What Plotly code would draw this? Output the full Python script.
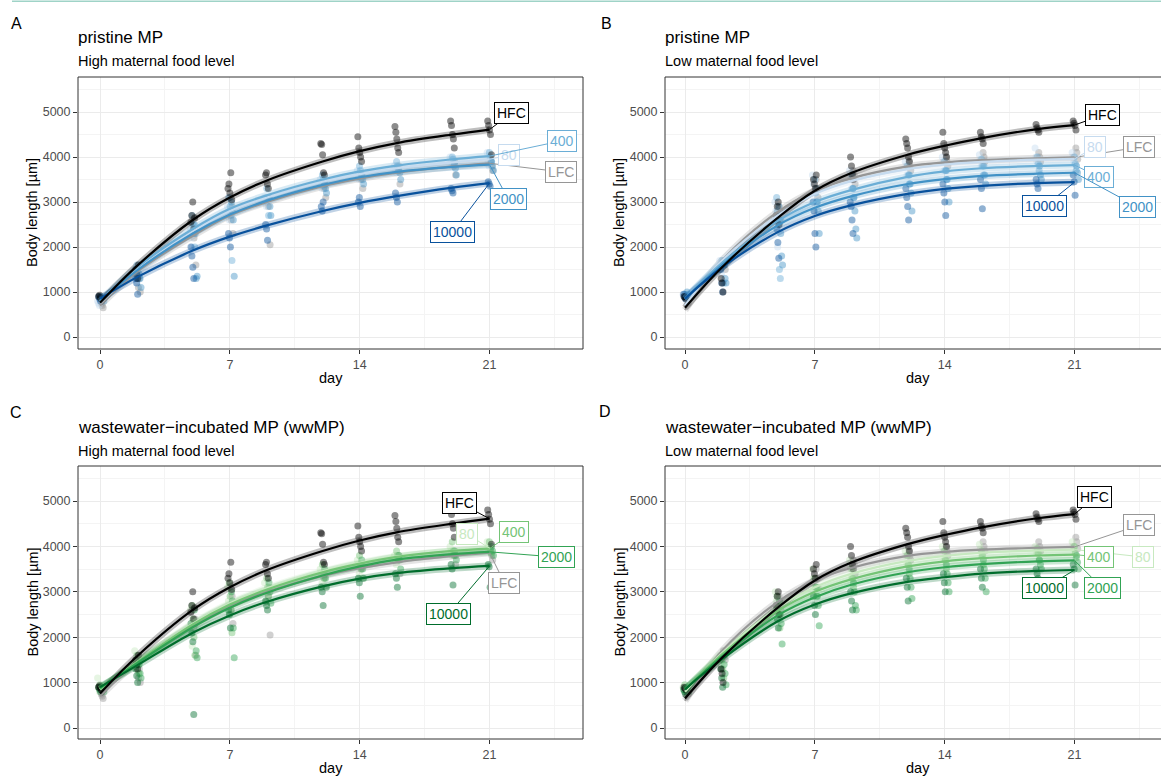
import plotly.graph_objects as go

W, H = 1161, 776
FONT = "Liberation Sans"

DAYS = [0, 2, 5, 7, 9, 12, 14, 16, 19, 21]
X_TICKS = [0, 7, 14, 21]
X_MINOR = [3.5, 10.5, 17.5, 24.5]
Y_TICKS = [0, 1000, 2000, 3000, 4000, 5000]
Y_MINOR = [500, 1500, 2500, 3500, 4500, 5500]
TREATMENTS = ["LFC", "80", "400", "2000", "10000", "HFC"]

# ---------------- fitted growth curves (body length, um) at DAYS -------------
FIT_HFC_HIGH = [760, 1580, 2600, 3100, 3480, 3900, 4130, 4310, 4500, 4610]
FIT_LFC_HIGH = [700, 1450, 2250, 2700, 3000, 3350, 3520, 3650, 3790, 3860]
FIT_HFC_LOW = [650, 1550, 2650, 3250, 3650, 4050, 4250, 4420, 4620, 4710]
FIT_LFC_LOW = [600, 1700, 2780, 3250, 3530, 3790, 3880, 3930, 3970, 3990]

FIT_PRISTINE_HIGH = {
    "80": [750, 1500, 2350, 2800, 3100, 3450, 3620, 3750, 3880, 3950],
    "400": [800, 1550, 2400, 2850, 3150, 3500, 3680, 3810, 3950, 4020],
    "2000": [780, 1480, 2300, 2720, 3030, 3380, 3550, 3670, 3780, 3830],
    "10000": [850, 1330, 1920, 2230, 2480, 2800, 2980, 3130, 3320, 3420],
}
FIT_PRISTINE_LOW = {
    "80": [700, 1700, 2700, 3180, 3470, 3730, 3830, 3890, 3940, 3960],
    "400": [850, 1650, 2580, 3000, 3270, 3560, 3680, 3750, 3800, 3820],
    "2000": [850, 1600, 2480, 2870, 3130, 3400, 3510, 3580, 3630, 3650],
    "10000": [850, 1550, 2330, 2690, 2930, 3180, 3290, 3360, 3420, 3440],
}
FIT_WW_HIGH = {
    "80": [850, 1450, 2300, 2750, 3080, 3450, 3640, 3780, 3900, 3960],
    "400": [850, 1450, 2280, 2720, 3050, 3430, 3620, 3770, 3900, 3950],
    "2000": [880, 1430, 2220, 2650, 2980, 3360, 3560, 3710, 3830, 3880],
    "10000": [900, 1380, 2100, 2480, 2780, 3120, 3290, 3410, 3520, 3570],
}
FIT_WW_LOW = {
    "80": [800, 1650, 2650, 3100, 3400, 3680, 3790, 3860, 3910, 3930],
    "400": [850, 1620, 2580, 3000, 3280, 3560, 3670, 3740, 3800, 3820],
    "2000": [850, 1580, 2480, 2880, 3160, 3430, 3540, 3610, 3670, 3690],
    "10000": [850, 1520, 2350, 2720, 2970, 3220, 3320, 3400, 3460, 3480],
}

# ---------------- individual measurements, one list per day in DAYS ----------
PTS_HFC_HIGH = [[900, 930, 880, 850], [1500, 1400, 1300, 1600], [2550, 2700, 3000, 2400, 2650],
                [3300, 3400, 3200, 3650, 3050], [3600, 3650, 3400, 3300], [4300, 4280, 4050, 3650, 3600],
                [4450, 4200, 4100, 4000, 3900], [4680, 4550, 4400, 4200, 4100],
                [4800, 4700, 4500, 4400, 4200], [4800, 4700, 4600, 4500, 4050]]
PTS_LFC_HIGH = [[750, 700, 650], [1100, 1300, 1000], [2200, 2400, 1600], [2600, 2900, 2300],
                [2900, 3100, 2050], [3300, 3400, 3100], [3500, 3600, 3300], [3700, 3800, 3400],
                [3800, 3900, 3600], [3900, 3800, 3700]]
PTS_HFC_LOW = [[900, 880, 850], [1300, 1200, 1000], [2700, 2900, 3000, 2500], [3500, 3400, 3300, 3600],
               [4000, 3800, 3600, 3500], [4400, 4300, 4200, 4000, 3900], [4550, 4300, 4200, 4100, 4000],
               [4550, 4450, 4400, 4300], [4720, 4650, 4600, 4550], [4800, 4750, 4700, 4600]]
PTS_LFC_LOW = [[850, 800, 750], [1700, 1600, 1500], [2900, 2800, 2600], [3500, 3300, 3100],
               [3700, 3600, 3400], [3900, 3800, 3700], [4000, 3900, 3800], [4100, 4000, 3900],
               [4100, 4000, 3900], [4200, 4100, 3950]]

PTS_PRISTINE_HIGH = {
    "80": [[800, 750, 700], [1500, 1400, 1200], [2400, 2200, 2000], [2900, 3100, 2600], [3100, 3000, 2900],
           [3500, 3400, 3300], [3700, 3600, 3500], [3800, 3700, 3650], [4000, 3900, 3800], [4100, 3900, 3800]],
    "400": [[900, 850, 800], [1600, 1450, 1300], [2700, 2500, 2300, 2000], [3100, 2900, 2700, 1700],
            [3300, 3100, 2700], [3600, 3500, 3350], [3800, 3700, 3600], [3900, 3800, 3700],
            [4000, 3950, 3850], [4100, 4000, 3900]],
    "2000": [[900, 850, 800], [1400, 1300, 1100], [2500, 2300, 1300, 1350], [3000, 2800, 2600, 1350],
             [3100, 2900, 2700], [3400, 3300, 3200], [3600, 3500, 3400], [3700, 3650, 3500],
             [3850, 3750, 3600], [3900, 3800, 3700]],
    "10000": [[900, 850, 800], [1300, 1200, 950], [2000, 1800, 1550, 1300], [2300, 2200, 2000],
              [2500, 2400, 2150], [2900, 2800, 3000], [3000, 3100, 2900], [3200, 3100, 3000],
              [3300, 3250, 3200], [3450, 3400, 3350]],
}
PTS_PRISTINE_LOW = {
    "80": [[950, 900], [1700, 1500, 1400], [3000, 2800, 2600, 2000], [3600, 3400, 3200], [3700, 3500, 3300],
           [3900, 3800, 3600], [4000, 3900, 3700], [4050, 3950, 3800], [4200, 4000, 3900], [4100, 4000, 3900]],
    "400": [[950, 900, 850], [1700, 1600, 1200], [3100, 2800, 2500, 1500, 1300], [3500, 3200, 3000],
            [3600, 3300, 3100], [3800, 3600, 3400], [3900, 3700, 3500], [3950, 3800, 3600],
            [4000, 3850, 3700], [4000, 3850, 3700]],
    "2000": [[1000, 950, 900], [1600, 1300, 1200], [2900, 2600, 2300, 1800, 1600], [3300, 3000, 2800, 2300],
             [3300, 3100, 2800, 2400, 2200], [3600, 3400, 3200, 2800], [3700, 3500, 3300, 3000],
             [3800, 3600, 3400], [3800, 3600, 3500], [3800, 3650, 3500]],
    "10000": [[950, 900, 850], [1500, 1200, 1000], [2600, 2400, 2100, 1750], [3000, 2800, 2300, 2000],
              [3000, 2900, 2600, 2300], [3300, 3100, 2900, 2600], [3400, 3200, 3000, 2700],
              [3500, 3300, 2850], [3500, 3400, 3300], [3600, 3450, 3150]],
}
PTS_WW_HIGH = {
    "80": [[1100, 900, 800], [1700, 1500, 1300], [2600, 2200, 1800], [3100, 2800, 2500], [3200, 3000, 2800],
           [3500, 3400, 3200], [3700, 3600, 3400], [3800, 3700, 3600], [4000, 3900, 3800], [4100, 4000, 3900]],
    "400": [[950, 900, 850], [1600, 1400, 1200], [2700, 2400, 2000, 1600], [3200, 2900, 2600, 2100],
            [3300, 3100, 2900], [3600, 3400, 3300], [3800, 3600, 3500], [3900, 3800, 3700],
            [4100, 3900, 3800], [4100, 3950, 3850]],
    "2000": [[900, 850, 800], [1400, 1200, 1100], [2600, 2300, 1700, 1550], [3000, 2800, 2200, 1550],
             [3200, 3000, 2750], [3500, 3300, 3100], [3700, 3500, 3300], [3800, 3700, 3500],
             [3900, 3800, 3700], [4000, 3900, 3800]],
    "10000": [[900, 850, 800], [1300, 1150, 1000], [2300, 2100, 1900, 300], [2600, 2500, 2200],
              [2800, 2700, 2600], [3100, 3000, 2700], [3300, 3200, 2900], [3400, 3300, 3100],
              [3600, 3500, 3150], [3600, 3550, 3100]],
}
PTS_WW_LOW = {
    "80": [[900, 850], [1600, 1400], [3000, 2800, 2600], [3500, 3300, 3100], [3700, 3500, 3300],
           [3900, 3800, 3600], [4000, 3900, 3700], [4050, 3950, 3800], [4000, 3950, 3850], [4100, 4000, 3950]],
    "400": [[950, 850, 800], [1500, 1300, 1100], [2900, 2700, 2500, 2200], [3300, 3100, 2900],
            [3500, 3300, 3100], [3800, 3600, 3400], [3900, 3700, 3500], [3900, 3800, 3600],
            [3950, 3850, 3700], [4000, 3850, 3750]],
    "2000": [[900, 850, 800], [1400, 1200, 950], [2800, 2500, 2300, 1850], [3100, 2900, 2700, 2250],
             [3200, 3000, 2700, 2600], [3500, 3300, 3100, 2850], [3600, 3400, 3200, 3000],
             [3700, 3500, 3300, 3000], [3700, 3600, 3500], [3800, 3650, 3500]],
    "10000": [[850, 800, 750], [1300, 1100, 900], [2600, 2400, 2200], [2900, 2700, 2500],
              [3000, 2800, 2600], [3300, 3100, 2800], [3400, 3200, 3000], [3500, 3300, 3100],
              [3500, 3400, 3300], [3600, 3500, 3150]],
}

# ---------------- styles ----------------
CTRL_COLORS = {"HFC": "#000000", "LFC": "#969696"}
BLUES = {"80": "#c6dbef", "400": "#6baed6", "2000": "#4292c6", "10000": "#08519c"}
GREENS = {"80": "#c7e9c0", "400": "#74c476", "2000": "#31a354", "10000": "#006d2c"}
JITTER = {"HFC": 0.0, "LFC": 0.12, "80": -0.08, "400": 0.04, "2000": 0.16, "10000": -0.02}

# label box positions (day, body length) for each panel
LABEL_POS = {
    "A": {"HFC": (22.2, 4980), "400": (24.9, 4360), "80": (22.05, 4040), "LFC": (24.85, 3670),
          "2000": (22.0, 3070), "10000": (19.0, 2330)},
    "B": {"HFC": (22.5, 4930), "80": (22.1, 4220), "LFC": (24.5, 4220), "400": (22.3, 3560),
          "2000": (24.4, 2890), "10000": (19.4, 2910)},
    "C": {"HFC": (19.4, 4956), "80": (19.8, 4270), "400": (22.3, 4317), "2000": (24.6, 3766),
          "LFC": (21.8, 3194), "10000": (18.8, 2511)},
    "D": {"HFC": (22.1, 5088), "LFC": (24.5, 4471), "400": (22.3, 3766), "80": (24.7, 3766),
          "10000": (19.4, 3084), "2000": (22.5, 3084)},
}

PANELS = [
    dict(key="A", title="pristine MP", sub="High maternal food level", col=0, row=0,
         fits=FIT_PRISTINE_HIGH, pts=PTS_PRISTINE_HIGH, colors=BLUES,
         hfc=(FIT_HFC_HIGH, PTS_HFC_HIGH), lfc=(FIT_LFC_HIGH, PTS_LFC_HIGH)),
    dict(key="B", title="pristine MP", sub="Low maternal food level", col=1, row=0,
         fits=FIT_PRISTINE_LOW, pts=PTS_PRISTINE_LOW, colors=BLUES,
         hfc=(FIT_HFC_LOW, PTS_HFC_LOW), lfc=(FIT_LFC_LOW, PTS_LFC_LOW)),
    dict(key="C", title="wastewater\u2212incubated MP (wwMP)", sub="High maternal food level", col=0, row=1,
         fits=FIT_WW_HIGH, pts=PTS_WW_HIGH, colors=GREENS,
         hfc=(FIT_HFC_HIGH, PTS_HFC_HIGH), lfc=(FIT_LFC_HIGH, PTS_LFC_HIGH)),
    dict(key="D", title="wastewater\u2212incubated MP (wwMP)", sub="Low maternal food level", col=1, row=1,
         fits=FIT_WW_LOW, pts=PTS_WW_LOW, colors=GREENS,
         hfc=(FIT_HFC_LOW, PTS_HFC_LOW), lfc=(FIT_LFC_LOW, PTS_LFC_LOW)),
]

# pixel geometry
COL_PX = [(78, 583, 100), (665, 1161, 685)]  # left, right, day-0 pixel
ROW_PX = [(77, 349, 337, 45.0), (466, 739, 728, 45.4)]  # top, bottom, zero pixel, px per 1000
PX_DAY = 18.55
LETTER_PX = {"A": (16, 23), "B": (606, 23), "C": (16, 412), "D": (605, 411)}
TITLE_Y = [(37, 61), (427, 451)]
DAY_Y = [378, 768]


def px(xp):
    return xp / W


def py(yp):
    return 1 - yp / H


fig = go.Figure()
annotations = []
shapes = []
layout = {}
TICKFONT = dict(size=12.5, color="#4d4d4d", family=FONT)

for i, p in enumerate(PANELS):
    n = "" if i == 0 else str(i + 1)
    xa, ya = "x" + n, "y" + n
    left, right, d0 = COL_PX[p["col"]]
    top, bot, z0, ppk = ROW_PX[p["row"]]
    xr = [(left - d0) / PX_DAY, (right - d0) / PX_DAY]
    yr = [(z0 - bot) / ppk * 1000, (z0 - top) / ppk * 1000]

    layout["xaxis" + n] = dict(
        domain=[px(left), px(right)], range=xr, anchor=ya, tickvals=X_TICKS,
        ticktext=[str(v) for v in X_TICKS], ticks="outside", ticklen=4, tickwidth=1,
        tickcolor="#333333", showgrid=True, gridcolor="#ebebeb", gridwidth=1, zeroline=False,
        showline=False, tickfont=TICKFONT,
        minor=dict(tickvals=X_MINOR, showgrid=True, gridcolor="#f4f4f4", gridwidth=1, ticks=""),
    )
    layout["yaxis" + n] = dict(
        domain=[py(bot), py(top)], range=yr, anchor=xa, tickvals=Y_TICKS,
        ticktext=[str(v) for v in Y_TICKS], ticks="outside", ticklen=4, tickwidth=1,
        tickcolor="#333333", showgrid=True, gridcolor="#ebebeb", gridwidth=1, zeroline=False,
        showline=False, tickfont=TICKFONT,
        minor=dict(tickvals=Y_MINOR, showgrid=True, gridcolor="#f4f4f4", gridwidth=1, ticks=""),
    )

    series = {}
    for t in TREATMENTS:
        if t == "HFC":
            series[t] = (p["hfc"][0], p["hfc"][1], CTRL_COLORS[t])
        elif t == "LFC":
            series[t] = (p["lfc"][0], p["lfc"][1], CTRL_COLORS[t])
        else:
            series[t] = (p["fits"][t], p["pts"][t], p["colors"][t])

    # points
    for t in TREATMENTS:
        fit, pts, col = series[t]
        xs, ys = [], []
        for d, vals in zip(DAYS, pts):
            m = len(vals)
            for j, v in enumerate(vals):
                xs.append(d + JITTER[t] + (j - (m - 1) / 2) * 0.05)
                ys.append(v)
        fig.add_trace(go.Scatter(x=xs, y=ys, mode="markers", xaxis=xa, yaxis=ya, showlegend=False,
                                 marker=dict(size=7, color=col, opacity=0.45, line=dict(width=0)),
                                 hoverinfo="skip"))
    # confidence bands (wide translucent lines)
    for t in TREATMENTS:
        fit, pts, col = series[t]
        fig.add_trace(go.Scatter(x=DAYS, y=fit, mode="lines", xaxis=xa, yaxis=ya, showlegend=False,
                                 line=dict(color=col, width=7, shape="spline", smoothing=1.0),
                                 opacity=0.25, hoverinfo="skip"))
    # fitted lines
    for t in TREATMENTS:
        fit, pts, col = series[t]
        fig.add_trace(go.Scatter(x=DAYS, y=fit, mode="lines", xaxis=xa, yaxis=ya, showlegend=False,
                                 line=dict(color=col, width=2.2, shape="spline", smoothing=1.0),
                                 hoverinfo="skip"))

    # labels with leader lines
    for t in ["LFC", "80", "400", "2000", "10000", "HFC"]:
        fit, pts, col = series[t]
        lx, ly = LABEL_POS[p["key"]][t]
        annotations.append(dict(
            x=DAYS[-1], y=fit[-1], xref=xa, yref=ya, ax=lx, ay=ly, axref=xa, ayref=ya,
            text=t, showarrow=True, arrowhead=0, arrowwidth=1, arrowcolor=col, standoff=0,
            font=dict(size=14, color=col, family=FONT), bgcolor="white", bordercolor=col,
            borderwidth=1, borderpad=2))

    # panel border (right edge hidden for right column, cropped)
    bc = dict(color="#333333", width=1)
    shapes.append(dict(type="line", xref=xa + " domain", yref=ya + " domain", x0=0, x1=1, y0=0, y1=0, line=bc, layer="above"))
    shapes.append(dict(type="line", xref=xa + " domain", yref=ya + " domain", x0=0, x1=1, y0=1, y1=1, line=bc, layer="above"))
    shapes.append(dict(type="line", xref=xa + " domain", yref=ya + " domain", x0=0, x1=0, y0=0, y1=1, line=bc, layer="above"))
    if p["col"] == 0:
        shapes.append(dict(type="line", xref=xa + " domain", yref=ya + " domain", x0=1, x1=1, y0=0, y1=1, line=bc, layer="above"))

    # titles and axis titles
    ty, sy = TITLE_Y[p["row"]]
    annotations.append(dict(x=px(left - 2), y=py(ty), xref="paper", yref="paper", xanchor="left", yanchor="middle",
                            text=p["title"], showarrow=False, font=dict(size=17, color="#000000", family=FONT)))
    annotations.append(dict(x=px(left - 2), y=py(sy), xref="paper", yref="paper", xanchor="left", yanchor="middle",
                            text=p["sub"], showarrow=False, font=dict(size=14.5, color="#000000", family=FONT)))
    lxp, lyp = LETTER_PX[p["key"]]
    annotations.append(dict(x=px(lxp), y=py(lyp), xref="paper", yref="paper", xanchor="center", yanchor="middle",
                            text=p["key"], showarrow=False, font=dict(size=16, color="#000000", family=FONT)))
    annotations.append(dict(x=px(left - 46), y=py((top + bot) / 2), xref="paper", yref="paper",
                            xanchor="center", yanchor="middle", textangle=-90, text="Body length [\u00b5m]",
                            showarrow=False, font=dict(size=14.5, color="#000000", family=FONT)))
    annotations.append(dict(x=px((left + left + 505) / 2), y=py(DAY_Y[p["row"]]), xref="paper",
                            yref="paper", xanchor="center", yanchor="middle", text="day",
                            showarrow=False, font=dict(size=14.5, color="#000000", family=FONT)))

# thin teal rule at the top of the page
shapes.append(dict(type="line", xref="paper", yref="paper", x0=px(12), x1=1, y0=py(1.2), y1=py(1.2),
                   line=dict(color="#9fd3c7", width=1.5)))

fig.update_layout(
    width=W, height=H, margin=dict(l=0, r=0, t=0, b=0), paper_bgcolor="white", plot_bgcolor="white",
    font=dict(family=FONT), annotations=annotations, shapes=shapes, showlegend=False, **layout)

fig.write_html("out.html")
